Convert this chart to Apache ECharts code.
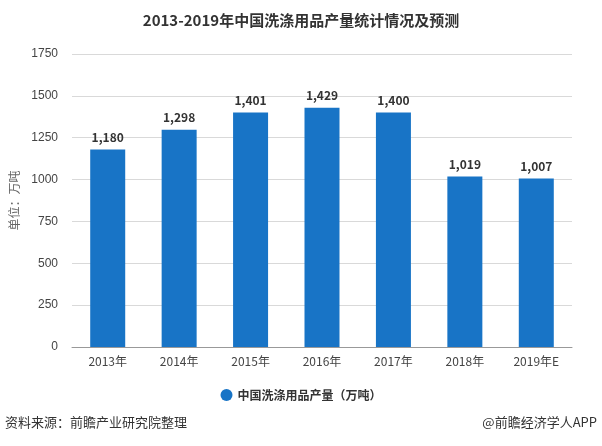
<!DOCTYPE html>
<html><head><meta charset="utf-8">
<script src="https://cdn.jsdelivr.net/npm/echarts@6/dist/echarts.min.js"></script>
<style>html,body{margin:0;padding:0;background:#fff}#c{width:602px;height:446px}</style>
</head><body><div id="c"></div>
<script>
const categories = ['2013年','2014年','2015年','2016年','2017年','2018年','2019年E'];
const values = [1180, 1298, 1401, 1429, 1400, 1019, 1007];
const seriesName = '中国洗涤用品产量（万吨）';
const yTicks = {min: 0, max: 1750, interval: 250};

const chart = echarts.init(document.getElementById('c'), null, {renderer: 'canvas'});
chart.setOption({
  animation: false,
  backgroundColor: '#fff',
  title: {
    text: '2013-2019年中国洗涤用品产量统计情况及预测',
    left: 'center', top: 8,
    textStyle: {fontFamily: 'Noto Sans CJK SC', fontSize: 15, fontWeight: 'bold', color: '#333'}
  },
  grid: {left: 72, right: 30, top: 54, bottom: 99},
  legend: {
    data: [seriesName], bottom: 40, left: 'center', icon: 'circle', itemWidth: 12, itemHeight: 12,
    textStyle: {fontFamily: 'Noto Sans CJK SC', fontSize: 12, fontWeight: 'bold', color: '#333'}
  },
  xAxis: {
    type: 'category', data: categories,
    axisLine: {lineStyle: {color: '#999'}},
    axisTick: {alignWithLabel: true, lineStyle: {color: '#999'}},
    axisLabel: {fontFamily: 'Noto Sans CJK SC', fontSize: 12, color: '#444', margin: 8}
  },
  yAxis: {
    type: 'value', min: yTicks.min, max: yTicks.max, interval: yTicks.interval,
    name: '单位：万吨', nameLocation: 'middle', nameGap: 46, nameRotate: 90,
    nameTextStyle: {fontFamily: 'Noto Sans CJK SC', fontSize: 12, color: '#666'},
    axisLine: {show: false}, axisTick: {show: false},
    axisLabel: {fontFamily: 'Liberation Sans', fontSize: 12, color: '#444', margin: 14,
      formatter: v => String(v)},
    splitLine: {lineStyle: {color: '#d9d9d9'}}
  },
  series: [{
    name: seriesName, type: 'bar', data: values, barWidth: '49%',
    itemStyle: {color: '#1874c6'},
    label: {
      show: true, position: 'top', distance: 6,
      fontFamily: 'Noto Sans CJK SC', fontSize: 12, fontWeight: 'bold', color: '#333',
      formatter: p => p.value.toLocaleString('en-US')
    }
  }],
  graphic: [
    {type: 'text', left: 5, top: 416, style: {text: '资料来源：前瞻产业研究院整理', font: '13px "Noto Sans CJK SC"', fill: '#333'}},
    {type: 'text', right: 5, top: 416, style: {text: '@前瞻经济学人APP', font: '13px "Noto Sans CJK SC"', fill: '#333'}}
  ]
});
</script></body></html>
